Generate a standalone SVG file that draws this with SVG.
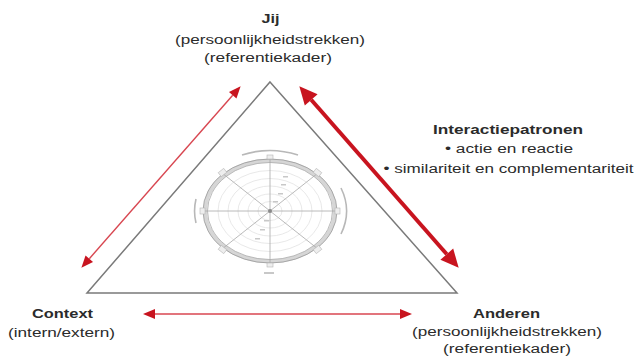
<svg xmlns="http://www.w3.org/2000/svg" width="635" height="356" viewBox="0 0 635 356">
<style>
text{font-family:"Liberation Sans",Arial,sans-serif;fill:#2b2b2b;text-anchor:middle;font-size:12px}
.b{font-weight:bold}
.tri{fill:none;stroke:#7a7a7a;stroke-width:1.5}
.thin{stroke:#d84650;stroke-width:1.4;fill:none}
.thick{stroke:#c8141f;stroke-width:4;fill:none}
.spk{stroke:#a8a8a8;stroke-width:0.8;fill:none}
.ring{fill:none;stroke:#e2e2e2;stroke-width:0.8}
.arc{fill:none;stroke:#b8b8b8;stroke-width:1.6}
.tk{fill:#c8c8c8}
</style>
<defs>
<marker id="hs" markerUnits="userSpaceOnUse" markerWidth="30" markerHeight="30" refX="0" refY="0" orient="auto-start-reverse" overflow="visible">
<path d="M0,-5 L12,0 L0,5 z" fill="#c8141f"/>
</marker>
<marker id="hl" markerUnits="userSpaceOnUse" markerWidth="40" markerHeight="40" refX="0" refY="0" orient="auto-start-reverse" overflow="visible">
<path d="M0,-8.5 L18,0 L0,8.5 z" fill="#c8141f"/>
</marker>
</defs>
<rect width="635" height="356" fill="#ffffff"/>

<g id="triangle">
<path class="tri" d="M270,82 L457,293 L87,293 Z"/>
</g>

<g id="wheel">
<ellipse class="ring" cx="270" cy="211" rx="52" ry="40.5"/>
<ellipse class="ring" cx="270" cy="211" rx="42" ry="32.5"/>
<ellipse class="ring" cx="270" cy="211" rx="32" ry="25"/>
<ellipse class="ring" cx="270" cy="211" rx="22" ry="17"/>
<ellipse class="ring" cx="270" cy="211" rx="12" ry="9.5"/>
<ellipse cx="270" cy="211" rx="64.8" ry="50.3" fill="none" stroke="#d6d6d6" stroke-width="4"/>
<ellipse cx="270" cy="211" rx="67" ry="52" fill="none" stroke="#a0a0a0" stroke-width="0.9"/>
<ellipse cx="270" cy="211" rx="62.5" ry="48.5" fill="none" stroke="#ababab" stroke-width="0.8"/>
<path class="spk" d="M203,211 H337 M270,157 V266 M222,173 L318,249 M318,173 L222,249"/>
<circle cx="270" cy="211" r="2" fill="#8a8a8a"/>
<path class="arc" d="M242,155 A74,59 0 0 1 298,155"/>
<path class="arc" d="M196,199 A76,62 0 0 0 196,223"/>
<path class="arc" d="M341,188 A76,62 0 0 1 341,234"/>
<rect class="tk" x="264" y="272" width="10" height="2"/>
<g fill="#eeeeee" stroke="#b5b5b5" stroke-width="0.6">
<rect x="219" y="170" width="7" height="5" transform="rotate(-38 222.5 172.5)"/>
<rect x="314" y="170" width="7" height="5" transform="rotate(38 317.5 172.5)"/>
<rect x="219" y="247" width="7" height="5" transform="rotate(38 222.5 249.5)"/>
<rect x="314" y="247" width="7" height="5" transform="rotate(-38 317.5 249.5)"/>
<rect x="200" y="208" width="5" height="6"/>
<rect x="335" y="208" width="5" height="6"/>
<rect x="267" y="155" width="6" height="4"/>
<rect x="267" y="263" width="6" height="4"/>
</g>
<rect class="tk" x="283" y="176" width="5" height="1.5"/>
<rect class="tk" x="281" y="184" width="5" height="1.5"/>
<rect class="tk" x="278" y="193" width="5" height="1.5"/>
<rect class="tk" x="273" y="201" width="5" height="1.5"/>
<rect class="tk" x="264" y="220" width="5" height="1.5"/>
<rect class="tk" x="260" y="229" width="5" height="1.5"/>
<rect class="tk" x="255" y="238" width="5" height="1.5"/>
</g>

<g id="connectors">
<line class="thin" x1="89.3" y1="258.7" x2="232.7" y2="95.3" marker-start="url(#hs)" marker-end="url(#hs)"/>
<line class="thick" x1="311.2" y1="99.8" x2="446.8" y2="254.2" marker-start="url(#hl)" marker-end="url(#hl)"/>
<line class="thin" x1="155" y1="314" x2="400" y2="314" marker-start="url(#hs)" marker-end="url(#hs)"/>
</g>

<g id="jij">
<text class="b" x="270.5" y="23" textLength="18" lengthAdjust="spacingAndGlyphs">Jij</text>
<text x="270" y="43.5" textLength="190" lengthAdjust="spacingAndGlyphs">(persoonlijkheidstrekken)</text>
<text x="268" y="62" textLength="128" lengthAdjust="spacingAndGlyphs">(referentiekader)</text>
</g>

<g id="interactiepatronen">
<text class="b" x="508" y="134" textLength="150" lengthAdjust="spacingAndGlyphs">Interactiepatronen</text>
<text x="509" y="153" textLength="128" lengthAdjust="spacingAndGlyphs">• actie en reactie</text>
<text x="508.5" y="173" textLength="250" lengthAdjust="spacingAndGlyphs">• similariteit en complementariteit</text>
</g>

<g id="context">
<text class="b" x="62.5" y="318" textLength="61" lengthAdjust="spacingAndGlyphs">Context</text>
<text x="61.5" y="337" textLength="107" lengthAdjust="spacingAndGlyphs">(intern/extern)</text>
</g>

<g id="anderen">
<text class="b" x="506.5" y="318" textLength="67" lengthAdjust="spacingAndGlyphs">Anderen</text>
<text x="507" y="336" textLength="190" lengthAdjust="spacingAndGlyphs">(persoonlijkheidstrekken)</text>
<text x="507" y="353" textLength="128" lengthAdjust="spacingAndGlyphs">(referentiekader)</text>
</g>
</svg>
